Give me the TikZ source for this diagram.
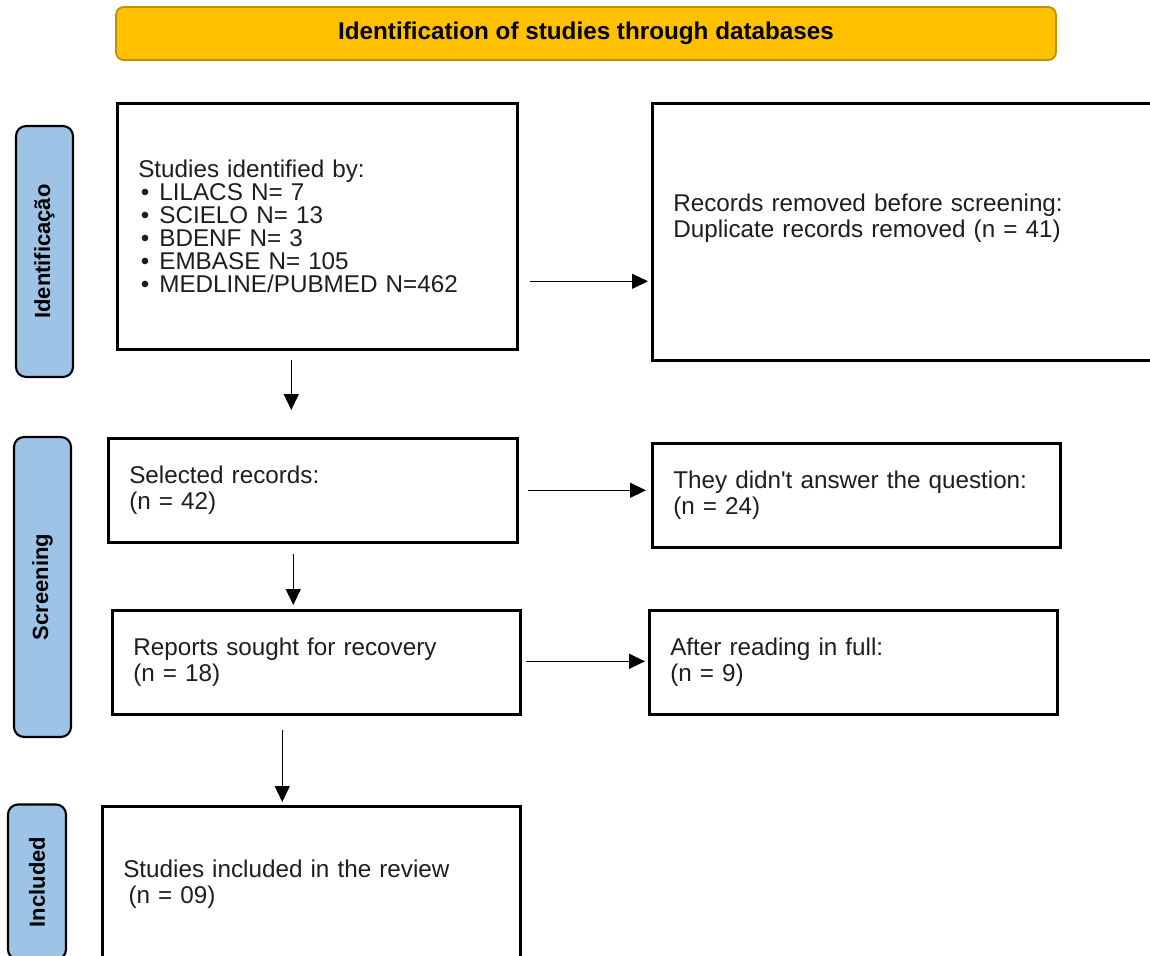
\documentclass[tikz,border=0pt]{standalone}
\usepackage{fontspec}
\setmainfont{Liberation Sans}[Ligatures=TeXOff]
\usetikzlibrary{arrows.meta}
\definecolor{bannerfill}{HTML}{FFC000}
\definecolor{bannerline}{HTML}{BF9000}
\definecolor{phasefill}{HTML}{9DC3E6}
\definecolor{boxtext}{HTML}{1E1E1E}
\newcommand{\boxfont}{\fontsize{13.8}{14.8}\selectfont}
\newcommand{\listfont}{\fontsize{13.8}{13}\selectfont}
\newcommand{\itm}[1]{\\\makebox[12pt][l]{\hspace{1.5pt}•}#1}
\begin{document}
\begin{tikzpicture}[x=0.02cm,y=-0.02cm,
        box/.style={draw, line width=1.5pt, inner xsep=0.42cm, align=left,
                    anchor=north west, text=boxtext, font=\boxfont},
        phase/.style={draw, fill=phasefill, line width=1.2pt, rounded corners=0.2cm,
                      rotate=90, minimum height=1.14cm, font=\bfseries\fontsize{12.5}{14}\selectfont},
        arr/.style={-{Triangle[length=0.32cm,width=0.3cm]}, line width=0.8pt}]
                        \path[use as bounding box] (0,0) rectangle (1150,956);
                        \clip (0,0) rectangle (1150,956);
                        \fill[white] (0,0) rectangle (1150,956);

                        % banner
                        \node[draw=bannerline, fill=bannerfill, line width=1pt, rounded corners=0.15cm,
                              minimum width=18.8cm, minimum height=1.06cm,
                              font=\bfseries\fontsize{13.8}{15}\selectfont] (banner) at (586,33.5)
                              {Identification of studies through databases};

                        % phases
                        \node[phase, minimum width=5.02cm] (phident) at (44.5,251.5) {Identificação};
                        \node[phase, minimum width=6cm] (phscreen) at (42.5,587) {Screening};
                        \node[phase, minimum width=3.1cm, minimum height=1.16cm] (phincl) at (37,882) {Included};

                        % boxes
                        \node[box, text width=7.16cm, minimum height=4.92cm, font=\listfont] (ident) at (116,102)
                              {Studies identified by:\itm{LILACS N= 7}\itm{SCIELO N= 13}\itm{BDENF N= 3}%
                               \itm{EMBASE N= 105}\itm{MEDLINE/PUBMED N=462}};
                        \node[box, text width=9.56cm, minimum height=5.14cm] (removed) at (651,102)
                              {Records removed before screening:\\Duplicate records removed (n = 41)\\[3pt]\mbox{}};
                        \node[box, text width=7.34cm, minimum height=2.08cm] (sel) at (107,437)
                              {Selected records:\\(n = 42)};
                        \node[box, text width=7.32cm, minimum height=2.08cm] (noans) at (651,442)
                              {They didn't answer the question:\\(n = 24)};
                        \node[box, text width=7.32cm, minimum height=2.08cm] (sought) at (111,609)
                              {Reports sought for recovery\\(n = 18)};
                        \node[box, text width=7.32cm, minimum height=2.08cm] (full) at (648,609)
                              {After reading in full:\\(n = 9)};
                        \node[box, text width=7.52cm, minimum height=3.1cm] (incl) at (101,805)
                              {Studies included in the review\\\hspace{3pt}(n = 09)};

                        % arrows
                        \coordinate (a1) at ([xshift=0.22cm,yshift=-1.1cm]ident.east);
                        \coordinate (a2) at ([xshift=0.18cm]sel.east);
                        \coordinate (a3) at ([xshift=0.08cm,yshift=0.02cm]sought.east);
                        \coordinate (d1) at ([xshift=-0.52cm,yshift=-0.18cm]ident.south);
                        \coordinate (d2) at ([xshift=-0.39cm,yshift=-0.2cm]sel.south);
                        \coordinate (d3) at ([xshift=-0.68cm,yshift=-0.28cm]sought.south);
                        \draw[arr, shorten >=0.06cm] (a1) -- (a1 -| removed.west);
                        \draw[arr, shorten >=0.1cm] (a2) -- (a2 -| noans.west);
                        \draw[arr, shorten >=0.06cm] (a3) -- (a3 -| full.west);
                        \draw[arr, shorten >=0.54cm] (d1) -- (d1 |- sel.north);
                        \draw[arr, shorten >=0.08cm] (d2) -- (d2 |- sought.north);
                        \draw[arr, shorten >=0.06cm] (d3) -- (d3 |- incl.north);
                    \end{tikzpicture}
\end{document}
